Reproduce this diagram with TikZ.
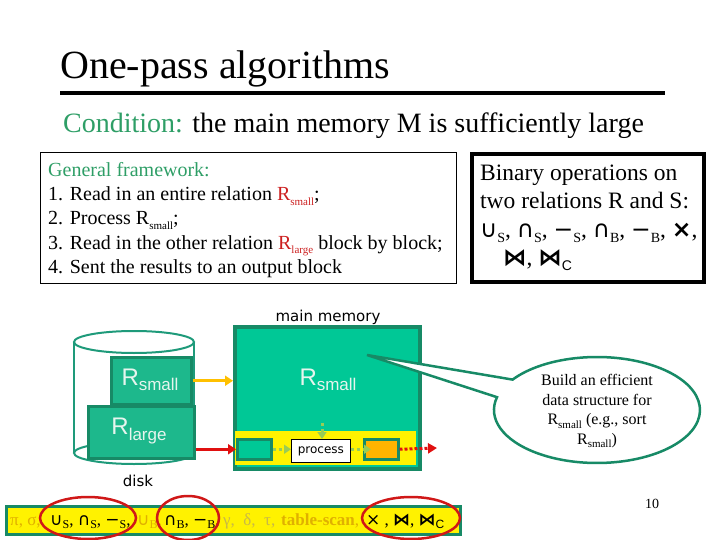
\documentclass[tikz,border=0pt]{standalone}
\usepackage{fontspec}
\setmainfont{Liberation Serif}
\setsansfont{DejaVu Sans}
\newfontfamily\symf{DejaVu Sans}
\newfontfamily\arialf{Liberation Sans}
\usetikzlibrary{arrows.meta}
\definecolor{tealfill}{HTML}{00C896}
\definecolor{diskfill}{HTML}{1DB88C}
\definecolor{darkgreen}{HTML}{178A66}
\definecolor{cylcol}{HTML}{1E9A7A}
\definecolor{condgreen}{HTML}{2E9E66}
\definecolor{rred}{HTML}{CC2020}
\definecolor{yelarr}{HTML}{FFC000}
\definecolor{redarr}{HTML}{E01010}
\definecolor{dotgreen}{HTML}{99CC55}
\definecolor{orangebox}{HTML}{FFB400}
\definecolor{faded}{HTML}{E0B000}
\definecolor{fadedgray}{HTML}{C8B848}
\definecolor{circred}{HTML}{D01818}
\definecolor{labelwhite}{HTML}{E6F5EE}
\newcommand\lo[2]{\raisebox{-0.22em}{\fontsize{#1}{#1}\selectfont #2}}
\tikzset{
  txt/.style={anchor=base west, inner sep=0pt},
  gfline/.style={txt, font=\fontsize{20}{20}\selectfont},
  binline/.style={txt, font=\fontsize{23.5}{23.5}\selectfont},
  tealbox/.style={draw=darkgreen, line width=2.5pt, fill=diskfill, inner sep=0pt},
  rlabel/.style={text=labelwhite, font=\arialf\fontsize{24}{24}\selectfont, inner sep=0pt},
  greendot/.style={draw=dotgreen, line width=3pt, dash pattern=on 3pt off 3pt, -{Triangle[length=7pt,width=9pt]}},
  barlabel/.style={anchor=base west, inner sep=0pt, font=\fontsize{17}{17}\selectfont},
  redring/.style={draw=circred, line width=2.5pt}
}
\begin{document}
\begin{tikzpicture}[x=1pt,y=1pt]
\useasboundingbox (0,0) rectangle (720,-540);
% title
\node[txt, font=\fontsize{40}{40}\selectfont] (title) at (60,-79) {One-pass algorithms};
\coordinate (ruleL) at (60,-93);
\coordinate (ruleR) at (665,-93);
\draw[line width=4pt] (ruleL) -- (ruleR);
\node[txt, font=\fontsize{28}{28}\selectfont] (cond) at (63,-133) {\textcolor{condgreen}{Condition:} the main memory M is sufficiently large};
% general framework box
\node[draw, line width=1.2pt, minimum width=416pt, minimum height=131pt, anchor=north west, inner sep=0pt] (gf) at (40,-152) {};
\node[gfline, text=condgreen] (gf0) at (48,-177) {General framework:};
\node[gfline] (gf1) at (48,-201) {1. Read in an entire relation \textcolor{rred}{R\lo{11}{small}};};
\node[gfline] (gf2) at (48,-225) {2. Process R\lo{11}{small};};
\node[gfline] (gf3) at (48,-249) {3. Read in the other relation \textcolor{rred}{R\lo{11}{large}} block by block;};
\node[gfline] (gf4) at (48,-273) {4. Sent the results to an output block};
% binary operations box
\node[draw, line width=4pt, minimum width=232pt, minimum height=128pt, anchor=north west, inner sep=0pt] (bin) at (470,-152) {};
\node[binline] (bin1) at (480,-181) {Binary operations on};
\node[binline] (bin2) at (480,-209) {two relations R and S:};
\node[binline] (bin3) at (480,-237) {{\symf ∪}\lo{14}{S}, {\symf ∩}\lo{14}{S}, {\symf −}\lo{14}{S}, {\symf ∩}\lo{14}{B}, {\symf −}\lo{14}{B}, {\symf\bfseries ×},};
\node[binline] (bin4) at (503,-265) {{\symf\bfseries ⋈}, {\symf\bfseries ⋈}\lo{14}{\arialf C}};
% disk cylinder
\fill[white] (74,-342) -- (74,-453) arc[start angle=180, end angle=360, x radius=60, y radius=11] -- (194,-342) -- cycle;
\draw[cylcol, line width=2pt] (134,-453) ellipse[x radius=60, y radius=11];
\draw[cylcol, line width=2pt] (74,-342) -- (74,-453);
\draw[cylcol, line width=2pt] (194,-342) -- (194,-453);
\draw[cylcol, line width=2pt, fill=white] (134,-342) ellipse[x radius=60, y radius=11];
\node[tealbox, minimum width=80pt, minimum height=47pt, anchor=north west] (rsd) at (110,-356) {};
\node[tealbox, minimum width=106pt, minimum height=52pt, anchor=north west] (rld) at (87,-405) {};
\node[rlabel] at (150,-380) {R\lo{17}{small}};
\node[rlabel] at (139,-431) {R\lo{17}{large}};
\node[inner sep=0pt, font=\sffamily\fontsize{15}{15}\selectfont] (disklbl) at (138,-481) {disk};
% main memory
\node[draw=darkgreen, line width=4pt, fill=tealfill, minimum width=185pt, minimum height=142pt, anchor=north west, inner sep=0pt] (mm) at (233,-325) {};
\fill[yellow] (235,-431) rectangle (416,-465);
\node[inner sep=0pt, font=\sffamily\fontsize{15}{15}\selectfont] (mmlbl) at (328,-317) {main memory};
\node[rlabel] at (328,-380) {R\lo{17}{small}};
\node[draw=darkgreen, line width=2.5pt, fill=tealfill, minimum width=34pt, minimum height=20pt, anchor=north west, inner sep=0pt] (sb) at (236,-438) {};
\node[draw=black, line width=0.8pt, fill=white, minimum width=59pt, minimum height=23pt, anchor=north west, inner sep=0pt, font=\sffamily\fontsize{12}{12}\selectfont] (proc) at (291,-439) {process};
\node[draw=darkgreen, line width=2.5pt, fill=orangebox, minimum width=34pt, minimum height=20pt, anchor=north west, inner sep=0pt] (ob) at (363,-438) {};
% arrows
\draw[yelarr, line width=3pt, -{Triangle[length=8pt,width=10pt]}] (rsd.east) -- (rsd.east -| mm.west);
\draw[redarr, line width=3pt, -{Triangle[length=8pt,width=10pt]}] (rld.east |- sb.west) -- (sb.west);
\draw[greendot] (sb.east) -- (sb.east -| proc.west);
\draw[greendot] (proc.east |- ob.west) -- ([xshift=8pt]ob.west);
\coordinate (topdot) at (322,-423);
\draw[greendot] (topdot) -- (topdot |- proc.north);
\coordinate (outend) at (437,-448);
\draw[redarr, line width=3pt, dash pattern=on 3pt off 2pt, -{Triangle[length=9pt,width=10pt]}] (ob.east) -- (outend);
% callout
\draw[darkgreen, line width=2.5pt, fill=white, line join=miter] (367,-355) -- (512.6,-379.6) arc[start angle=145, end angle=-194, x radius=103, y radius=53] -- cycle;
\node[align=center, inner sep=0pt, font=\fontsize{16}{19.5}\selectfont] (callout) at (597,-411) {Build an efficient\\data structure for\\R\lo{11}{small} (e.g., sort\\R\lo{11}{small})};
% page number
\node[inner sep=0pt, font=\fontsize{14}{14}\selectfont] (pnum) at (652,-504) {10};
% bottom bar
\node[draw=darkgreen, fill=yellow, line width=3pt, minimum width=454pt, minimum height=28pt, anchor=north west, inner sep=0pt] (bar) at (5,-505) {};
\node[barlabel, text=faded] (b1) at (10,-525) {π, σ,};
\node[barlabel] (b2) at (50,-525) {{\symf ∪}\lo{12}{S}, {\symf ∩}\lo{12}{S}, {\symf −}\lo{12}{S},};
\node[barlabel, text=faded] (b3) at (137,-525) {{\symf ∪}\lo{12}{B},};
\node[barlabel] (b4) at (164,-525) {{\symf ∩}\lo{12}{B}, {\symf −}\lo{12}{B},};
\node[barlabel, text=fadedgray] (b5) at (223,-525) {γ,\ \ δ,\ \ τ,};
\node[barlabel, text=faded] (b5b) at (281,-525) {\textbf{table-scan},};
\node[barlabel] (b6) at (366,-525) {{\symf ×} , {\symf\bfseries ⋈}, {\symf\bfseries ⋈}\lo{12}{\arialf C}};
\draw[redring] (88,-518) ellipse[x radius=48, y radius=21];
\draw[redring] (188,-518) ellipse[x radius=31, y radius=22];
\draw[redring] (411,-518) ellipse[x radius=49, y radius=21];
\end{tikzpicture}
\end{document}
